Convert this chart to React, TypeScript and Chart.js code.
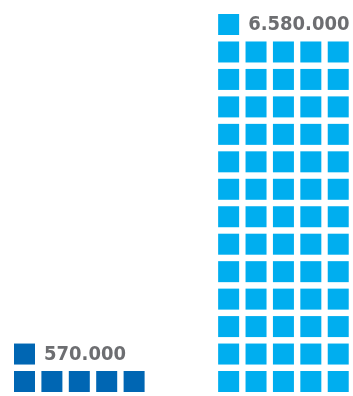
import React, { useEffect, useRef } from "react";
import { Chart, registerables } from "chart.js";

Chart.register(...registerables);

const categories = ["Group A", "Group B"];
const values = [570000, 6580000];
const valueLabels = ["570.000", "6.580.000"];
const colors = ["#0066b3", "#00aeef"];
const unitPerSquare = 100000;
const squaresPerRow = 5;

const W = 353;
const H = 396;

const labelPlugin = {
  id: "waffleLabels",
  afterDatasetsDraw(chart: any) {
    const ctx = chart.ctx;
    ctx.save();
    ctx.font = "bold 20px 'DejaVu Sans Condensed', 'DejaVu Sans', sans-serif";
    ctx.fillStyle = "#6d6e71";
    ctx.textAlign = "left";
    ctx.textBaseline = "alphabetic";
    chart.data.datasets.forEach((ds: any, i: number) => {
      const meta = chart.getDatasetMeta(i);
      const pts = meta.data;
      if (!pts.length) return;
      const last = pts[pts.length - 1];
      ctx.fillText(valueLabels[i], last.x + 19.5, last.y + 5.5);
    });
    ctx.restore();
  },
};

export default function App() {
  const ref = useRef<HTMLCanvasElement>(null);
  useEffect(() => {
    if (!ref.current) return;
    const groupSpacing = 7.45;
    const datasets = categories.map((cat, g) => {
      const n = Math.ceil(values[g] / unitPerSquare);
      const pts: { x: number; y: number }[] = [];
      for (let i = 0; i < n; i++) {
        pts.push({ x: g * groupSpacing + (i % squaresPerRow), y: Math.floor(i / squaresPerRow) });
      }
      return {
        label: cat,
        data: pts,
        pointStyle: "rect" as const,
        pointRadius: 14.85,
        pointHoverRadius: 14.85,
        pointBorderWidth: 0,
        backgroundColor: colors[g],
        borderColor: colors[g],
        clip: false as any,
      };
    });
    const xPitch = 27.4;
    const yPitch = 27.46;
    const xMin = -24.5 / xPitch;
    const yMin = -14.5 / yPitch;
    const chart = new Chart(ref.current, {
      type: "scatter",
      data: { datasets },
      options: {
        animation: false,
        responsive: false,
        devicePixelRatio: 1,
        layout: { padding: 0, autoPadding: false },
        plugins: { legend: { display: false }, tooltip: { enabled: false } },
        events: [],
        scales: {
          x: { type: "linear", display: false, min: xMin, max: xMin + W / xPitch },
          y: { type: "linear", display: false, min: yMin, max: yMin + H / yPitch },
        },
      },
      plugins: [labelPlugin],
    });
    return () => chart.destroy();
  }, []);
  return (
    <div style={{ position: "fixed", left: 0, top: 0, width: W, height: H, background: "#fff" }}>
      <canvas ref={ref} width={W} height={H} style={{ width: W, height: H, display: "block" }} />
    </div>
  );
}
